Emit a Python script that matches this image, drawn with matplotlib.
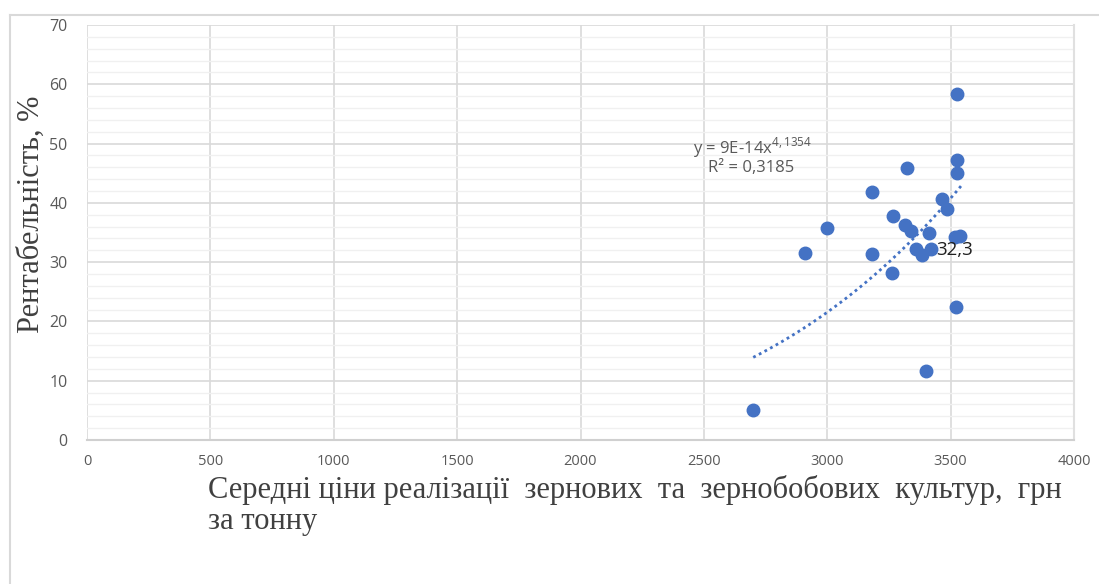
import matplotlib.pyplot as plt
import numpy as np
from matplotlib.lines import Line2D
from matplotlib.ticker import MultipleLocator

# Prices (UAH per tonne) and profitability (%)
price = [2700, 2910, 3000, 3180, 3183, 3264, 3268, 3316, 3340, 3322, 3360, 3383,
         3420, 3414, 3466, 3484, 3518, 3538, 3525, 3525, 3525, 3520, 3399]
profit = [5.0, 31.6, 35.7, 31.3, 41.8, 28.2, 37.7, 36.3, 35.2, 45.8, 32.2, 31.2,
          32.3, 35.0, 40.6, 39.0, 34.2, 34.4, 58.4, 47.2, 45.1, 22.5, 11.7]

# power trendline as printed on the chart
trend_a = 9e-14
trend_b = 4.1354
r2_text = 'R² = 0,3185'
label_idx = 12  # point carrying the "32,3" data label

x_ticks = [0, 500, 1000, 1500, 2000, 2500, 3000, 3500, 4000]
y_ticks = [0, 10, 20, 30, 40, 50, 60, 70]

blue = '#4472C4'
grey_txt = '#595959'
tick_font = 'Open Sans'

fig = plt.figure(figsize=(10.99, 5.84), dpi=100)
ax = fig.add_axes([87 / 1099, 1 - 440 / 584, (1074 - 87) / 1099, (440 - 25) / 584])

# grid
ax.set_xlim(0, 4000)
ax.set_ylim(0, 70)
ax.set_xticks(x_ticks)
ax.set_yticks(y_ticks)
ax.yaxis.set_minor_locator(MultipleLocator(2))
ax.grid(which='major', color='#d9d9d9', lw=1.2)
ax.grid(which='minor', axis='y', color='#f0f0f0', lw=1)
ax.set_axisbelow(True)
for s in ['top', 'left']:
    ax.spines[s].set_visible(False)
ax.spines['right'].set_color('#e0e0e0')
ax.spines['right'].set_linewidth(1.5)
ax.spines['bottom'].set_color('#d0d0d0')
ax.spines['bottom'].set_linewidth(1.5)
ax.tick_params(which='both', length=0)
ax.tick_params(axis='y', pad=14, labelsize=11.5, labelcolor=grey_txt)
ax.tick_params(axis='x', pad=10, labelsize=10.5, labelcolor=grey_txt)
for lab in ax.get_xticklabels() + ax.get_yticklabels():
    lab.set_fontfamily(tick_font)

# trendline
tx = np.linspace(min(price), max(price) + 5, 100)
ax.plot(tx, trend_a * tx ** trend_b, color=blue, lw=2, linestyle=(0, (1, 1.3)), zorder=2)

# points
ax.plot(price, profit, 'o', color=blue, ms=9, mec=blue, zorder=3)

ax.annotate('32,3', (price[label_idx], profit[label_idx]), xytext=(4, -1),
            textcoords='offset points', va='center', ha='left', fontsize=13.5,
            family=tick_font, color='#202020')

# equation
fig.text(693 / 1099, 1 - 148 / 584, r'y = 9E-14x$^{\mathregular{4,1354}}$',
         family=tick_font, fontsize=12, color=grey_txt, va='center', ha='left')
fig.text(708 / 1099, 1 - 168 / 584, r2_text,
         family=tick_font, fontsize=12, color=grey_txt, va='center', ha='left')

# axis titles
fig.text(31 / 1099, 1 - 214 / 584, 'Рентабельність, %', rotation=90,
         family='Liberation Serif', fontsize=22, color='#404040', va='center', ha='center')
fig.text(208 / 1099, 1 - 475 / 584,
         'Середні ціни реалізації  зернових  та  зернобобових  культур,  грн\nза тонну',
         family='Liberation Serif', fontsize=22, color='#404040', va='top', ha='left',
         linespacing=1.1)

# outer chart border
fig.add_artist(Line2D([10 / 1099, 1], [1 - 15 / 584] * 2, color='#d9d9d9', lw=1.5))
fig.add_artist(Line2D([10 / 1099] * 2, [0, 1 - 15 / 584], color='#d9d9d9', lw=1.5))

fig.savefig('out.png', dpi=100)
